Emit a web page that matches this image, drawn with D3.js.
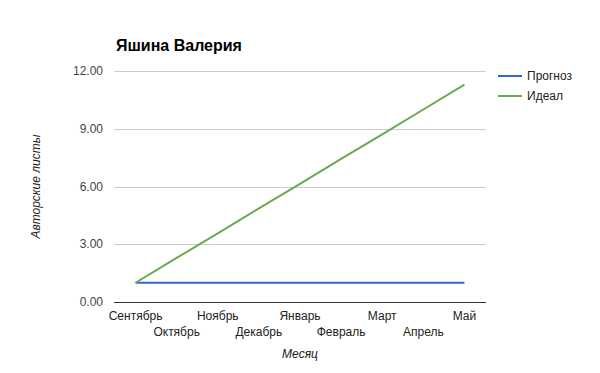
<!DOCTYPE html>
<html>
<head>
<meta charset="utf-8">
<script src="https://cdn.jsdelivr.net/npm/d3@7"></script>
<style>
  body { margin: 0; background: #fff; }
  svg { font-family: Arial, "Liberation Sans", sans-serif; }
</style>
</head>
<body>
<div id="chart"></div>
<script>
const months = ['Сентябрь', 'Октябрь', 'Ноябрь', 'Декабрь', 'Январь', 'Февраль', 'Март', 'Апрель', 'Май'];
const forecast = [1, 1, 1, 1, 1, 1, 1, 1, 1];
const ideal = [1.0, 2.29, 3.57, 4.86, 6.14, 7.43, 8.71, 10.0, 11.29];
const yTicks = [0, 3, 6, 9, 12];
const seriesNames = ['Прогноз', 'Идеал'];
const colors = ['#3366cc', '#6aa84f'];

const width = 600, height = 373;
const margin = { top: 71, right: 115, bottom: 72, left: 115 };

const svg = d3.select('#chart').append('svg')
  .attr('width', width).attr('height', height);

const xScale = d3.scaleBand()
  .domain(months)
  .range([margin.left, width - margin.right]);

const yScale = d3.scaleLinear()
  .domain([0, 12])
  .range([height - margin.bottom + 1, margin.top]);

// title
svg.append('text')
  .attr('x', 116).attr('y', 51)
  .attr('font-size', 16).attr('font-weight', 'bold')
  .attr('fill', '#000')
  .text('Яшина Валерия');

// gridlines
const grid = svg.append('g');
grid.selectAll('line')
  .data(yTicks.filter((d) => d !== 0))
  .join('line')
  .attr('x1', margin.left - 1).attr('x2', width - margin.right + 1)
  .attr('y1', (d) => Math.round(yScale(d)) + 0.5)
  .attr('y2', (d) => Math.round(yScale(d)) + 0.5)
  .attr('stroke', '#cccccc');

// y labels
svg.append('g').selectAll('text')
  .data(yTicks)
  .join('text')
  .attr('x', margin.left - 12)
  .attr('y', (d) => yScale(d) + 4)
  .attr('text-anchor', 'end')
  .attr('font-size', 12).attr('fill', '#444')
  .text((d) => d3.format('.2f')(d));

// x labels, alternating rows
svg.append('g').selectAll('text')
  .data(months)
  .join('text')
  .attr('x', (d) => xScale(d) + xScale.bandwidth() / 2)
  .attr('y', (d, i) => (i % 2 === 0 ? 320 : 336))
  .attr('text-anchor', 'middle')
  .attr('font-size', 12).attr('fill', '#222')
  .text((d) => d);

// axis titles
svg.append('text')
  .attr('x', (margin.left + width - margin.right) / 2)
  .attr('y', 358)
  .attr('text-anchor', 'middle')
  .attr('font-size', 12).attr('font-style', 'italic').attr('fill', '#222')
  .text('Месяц');

svg.append('text')
  .attr('transform', `translate(40, ${(yScale(0) + yScale(12)) / 2}) rotate(-90)`)
  .attr('text-anchor', 'middle')
  .attr('font-size', 12).attr('font-style', 'italic').attr('fill', '#222')
  .text('Авторские листы');

// lines
const line = d3.line()
  .x((d, i) => xScale(months[i]) + xScale.bandwidth() / 2)
  .y((d) => yScale(d));

[forecast, ideal].forEach((s, k) => {
  svg.append('path')
    .datum(s)
    .attr('d', line)
    .attr('fill', 'none')
    .attr('stroke', colors[k])
    .attr('stroke-width', 2);
});

// baseline
svg.append('line')
  .attr('x1', margin.left - 1).attr('x2', width - margin.right + 1)
  .attr('y1', Math.round(yScale(0)) + 0.5).attr('y2', Math.round(yScale(0)) + 0.5)
  .attr('stroke', '#333');

// legend
const legend = svg.append('g');
seriesNames.forEach((name, k) => {
  const y = 76 + k * 20;
  legend.append('line')
    .attr('x1', 498).attr('x2', 522)
    .attr('y1', y).attr('y2', y)
    .attr('stroke', colors[k]).attr('stroke-width', 2);
  legend.append('text')
    .attr('x', 527).attr('y', y + 4)
    .attr('font-size', 12).attr('fill', '#222')
    .text(name);
});
</script>
</body>
</html>
